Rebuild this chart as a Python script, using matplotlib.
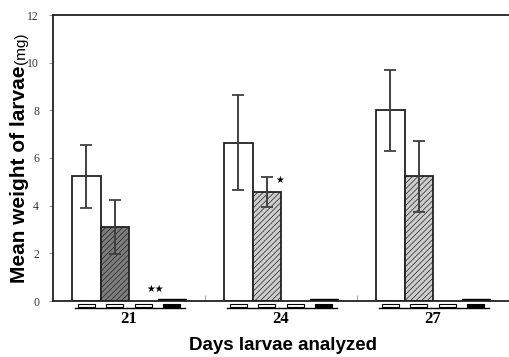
import matplotlib.pyplot as plt
from matplotlib.patches import Rectangle
from matplotlib.transforms import blended_transform_factory

days = ['21', '24', '27']
# four treatments per day, the last two are near zero
ctrl = [5.23, 6.64, 8.01]
ctrl_err = [1.32, 2.0, 1.7]
treat = [3.12, 4.59, 5.23]
treat_err = [1.13, 0.63, 1.5]
third = [0.0, 0.0, 0.0]
fourth = [0.08, 0.08, 0.08]
treat_colors = ['#7d7d7d', '#cdcdcd', '#cdcdcd']
hatch_colors = ['#666666', '#b0b0b0', '#b0b0b0']
box_fill = ['white', 'white', 'white', 'black']

plt.rcParams['hatch.linewidth'] = 0.5
fig = plt.figure(figsize=(5.09, 3.57), dpi=100)
ax = fig.add_axes([53 / 509, 56 / 357, 456 / 509, 286 / 357])

w = 0.1875
offs = [-1.5 * w, -0.5 * w, 0.5 * w, 1.5 * w]
x = range(len(days))
ebar = dict(ecolor='#404040', elinewidth=1.4, capsize=4, capthick=1.3)

ax.bar([i + offs[0] for i in x], ctrl, w, yerr=ctrl_err, color='white',
       edgecolor='#222222', linewidth=1.3, error_kw=ebar, zorder=2)
for i in x:
    plt.rcParams['hatch.color'] = hatch_colors[i]
    ax.bar(i + offs[1], treat[i], w, yerr=treat_err[i], color=treat_colors[i],
           edgecolor='#222222', linewidth=1.3, hatch='//////', error_kw=ebar, zorder=2)
ax.bar([i + offs[2] for i in x], third, w, color='white', edgecolor='#888888',
       linewidth=0.6, zorder=2)
ax.bar([i + offs[3] for i in x], fourth, w, color='black', edgecolor='black',
       linewidth=1.0, zorder=2)

# significance marks
ax.text(0.17, 0.5, '★★', fontsize=7, ha='center', va='center', family='DejaVu Sans')
ax.text(0.99, 5.08, '★', fontsize=7, ha='center', va='center', family='DejaVu Sans')

# small treatment boxes under each bar
tr = blended_transform_factory(ax.transData, ax.transAxes)
for i in x:
    for k, o in enumerate(offs):
        ax.add_patch(Rectangle((i + o - 0.055, -0.02), 0.11, 0.011, transform=tr,
                               facecolor=box_fill[k], edgecolor='black', linewidth=0.8,
                               clip_on=False))
    ax.plot([i - 0.355, i + 0.37], [-0.0235, -0.0235], transform=tr, color='black',
            linewidth=1.0, clip_on=False)

ax.set_xlim(-0.5, 2.5)
ax.set_ylim(0, 12)
ax.set_yticks(range(0, 13, 2))
ax.set_xticks(list(x))
ax.set_xticklabels(days, family='Liberation Serif', fontsize=12, fontweight='bold')
ax.set_yticklabels([str(v) for v in range(0, 13, 2)], family='Liberation Serif',
                   fontsize=8.5, color='#333333')
ax.set_xticks([0.5, 1.5], minor=True)
ax.tick_params(axis='x', which='major', length=0, pad=7)
ax.tick_params(axis='x', which='minor', direction='in', length=4, color='#999999')
ax.tick_params(axis='y', length=3, color='#999999', pad=7)

for s in ['left', 'top', 'bottom']:
    ax.spines[s].set_color('#222222')
    ax.spines[s].set_linewidth(1.3)
ax.spines['right'].set_visible(False)

fig.text(25 / 509, 74 / 357, 'Mean weight of larvae', rotation=90, rotation_mode='anchor',
         ha='left', va='baseline', fontsize=15, fontweight='bold', family='Liberation Sans')
fig.text(25 / 509, 293 / 357, '(mg)', rotation=90, rotation_mode='anchor',
         ha='left', va='baseline', fontsize=11, family='Liberation Sans')
fig.text(283 / 509, 12 / 357, 'Days larvae analyzed', ha='center', va='center',
         fontsize=13.5, fontweight='bold', family='Liberation Sans')

plt.savefig('out.png', dpi=100)
